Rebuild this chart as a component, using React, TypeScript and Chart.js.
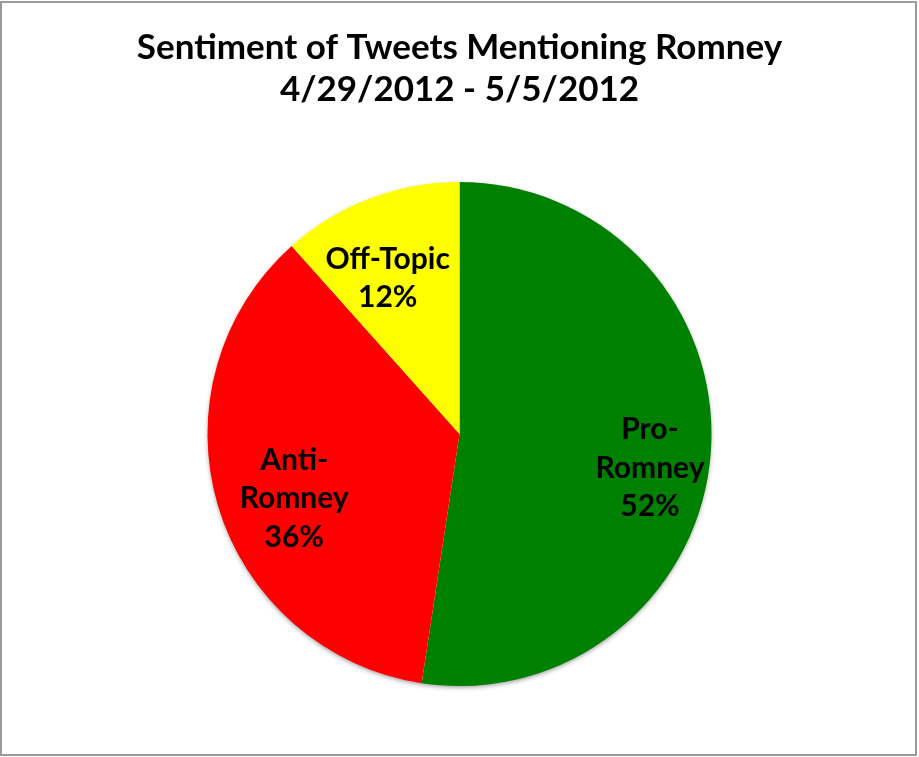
import React, { useEffect, useRef } from "react";
import { Chart, registerables, Plugin } from "chart.js";

Chart.register(...registerables);

const categories = ["Pro-Romney", "Anti-Romney", "Off-Topic"];
const sliceLabels = [["Pro-", "Romney"], ["Anti-", "Romney"], ["Off-Topic"]];
const shares = [52.4, 36.0, 11.6];
const sliceColors = ["#008000", "#FF0000", "#FFFF00"];
const titleLines = ["Sentiment of Tweets Mentioning Romney", "4/29/2012 - 5/5/2012"];

const FONT = "Lato, 'Open Sans', sans-serif";

// label centres, in units of the pie radius from its centre (Excel "best fit")
const labelOffsets = [
  [0.756, 0.136],
  [-0.656, 0.256],
  [-0.285, -0.617],
];

// soft drop shadow under the whole pie, like Excel's default
const pieShadowPlugin: Plugin<"pie"> = {
  id: "pieShadow",
  beforeDatasetsDraw(chart) {
    const el: any = chart.getDatasetMeta(0).data[0];
    if (!el) return;
    const { x, y, outerRadius } = el.getProps(["x", "y", "outerRadius"], true);
    const ctx = chart.ctx;
    ctx.save();
    ctx.shadowColor = "rgba(0,0,0,0.45)";
    ctx.shadowBlur = 5;
    ctx.shadowOffsetY = 2;
    ctx.fillStyle = "#fff";
    ctx.beginPath();
    ctx.arc(x, y, outerRadius - 1, 0, Math.PI * 2);
    ctx.fill();
    ctx.restore();
  },
};

const sliceLabelPlugin: Plugin<"pie"> = {
  id: "sliceLabels",
  afterDatasetsDraw(chart) {
    const ctx = chart.ctx;
    const meta = chart.getDatasetMeta(0);
    ctx.save();
    ctx.fillStyle = "#000";
    ctx.font = `bold 30px ${FONT}`;
    ctx.textAlign = "center";
    ctx.textBaseline = "middle";
    meta.data.forEach((el: any, i) => {
      const { x, y, outerRadius } = el.getProps(["x", "y", "outerRadius"], true);
      const cx = x + labelOffsets[i][0] * outerRadius;
      const cy = y + labelOffsets[i][1] * outerRadius;
      const lines = [...sliceLabels[i], `${Math.round(shares[i])}%`];
      const lh = 38.5;
      const top = cy - ((lines.length - 1) * lh) / 2;
      lines.forEach((t, j) => ctx.fillText(t, cx, top + j * lh));
    });
    ctx.restore();
  },
};

const App: React.FC = () => {
  const canvasRef = useRef<HTMLCanvasElement>(null);

  useEffect(() => {
    if (!canvasRef.current) return;
    const ctx = canvasRef.current.getContext("2d")!;

    const chart = new Chart(ctx, {
      type: "pie",
      data: {
        labels: categories,
        datasets: [
          {
            data: shares,
            backgroundColor: sliceColors,
            borderWidth: 0,
          },
        ],
      },
      options: {
        responsive: false,
        animation: false,
        layout: { padding: { top: 0, bottom: 71, left: 0, right: 0 } },
        plugins: {
          legend: { display: false },
          tooltip: { enabled: false },
          title: {
            display: true,
            text: titleLines,
            color: "#000",
            font: { family: FONT, size: 35, weight: "bold", lineHeight: 1.2 },
            padding: { top: 27, bottom: 71 },
          },
        },
      },
      plugins: [pieShadowPlugin, sliceLabelPlugin],
    });

    return () => {
      chart.destroy();
    };
  }, []);

  return (
    <div
      style={{
        position: "absolute",
        left: 0,
        top: 0,
        width: 919,
        height: 757,
        background: "#fff",
      }}
    >
      <canvas ref={canvasRef} width={919} height={757} style={{ display: "block" }} />
      <div
        style={{
          position: "absolute",
          left: 0,
          top: 1,
          width: 917,
          height: 755,
          boxSizing: "border-box",
          border: "2px solid #9a9a9a",
          pointerEvents: "none",
        }}
      />
    </div>
  );
};

export default App;
